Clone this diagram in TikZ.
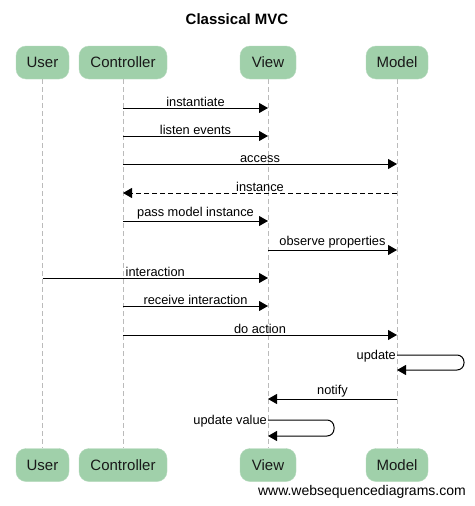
\documentclass[tikz,border=0pt]{standalone}
\usepackage{fontspec}
\setmainfont{Liberation Sans}
\usetikzlibrary{arrows.meta}
\definecolor{boxgreen}{HTML}{A0D0AA}
\definecolor{lifegray}{HTML}{BBBBBB}
\tikzset{
  actor/.style={fill=boxgreen, draw=boxgreen!80!white, rounded corners=10pt, minimum height=33pt, inner sep=0pt, font=\fontsize{15}{18}\selectfont, text=black!90},
  life/.style={draw=lifegray, dash pattern=on 5pt off 3pt, line width=0.8pt},
  msg/.style={draw=black, line width=1pt, -{Triangle[length=9pt,width=10pt]}},
  ret/.style={msg, dash pattern=on 5pt off 3pt},
  lbl/.style={font=\fontsize{12.8}{14}\selectfont, inner sep=1pt},
}
\begin{document}
\begin{tikzpicture}[x=1pt,y=-1pt]
\useasboundingbox[fill=white] (0,0) rectangle (474,506);
\node[font=\bfseries\fontsize{15}{18}\selectfont] (title) at (237,19) {Classical MVC};
% top actors
\node[actor, minimum width=53pt] (user) at (42.5,62.5) {User};
\node[actor, minimum width=88pt] (ctrl) at (123,62.5) {Controller};
\node[actor, minimum width=56pt] (view) at (268,62.5) {View};
\node[actor, minimum width=62pt] (model) at (397,62.5) {Model};
% bottom actors
\node[actor, minimum width=53pt] (userb) at (42.5,465) {User};
\node[actor, minimum width=88pt] (ctrlb) at (123,465) {Controller};
\node[actor, minimum width=56pt] (viewb) at (268,465) {View};
\node[actor, minimum width=62pt] (modelb) at (397,465) {Model};
% lifelines
\draw[life] (user) -- (userb);
\draw[life] (ctrl) -- (ctrlb);
\draw[life] (view) -- (viewb);
\draw[life] (model) -- (modelb);
% messages
\draw[msg] (ctrl |- 0,108) -- node[lbl, above] {instantiate} (view |- 0,108);
\draw[msg] (ctrl |- 0,136) -- node[lbl, above] {listen events} (view |- 0,136);
\draw[msg] (ctrl |- 0,164) -- node[lbl, above] {access} (model |- 0,164);
\draw[ret] (model |- 0,193) -- node[lbl, above] {instance} (ctrl |- 0,193);
\draw[msg] (ctrl |- 0,221) -- node[lbl, above] {pass model instance} (view |- 0,221);
\draw[msg] (view |- 0,250) -- node[lbl, above] {observe properties} (model |- 0,250);
\draw[msg] (user |- 0,278) -- node[lbl, above] {interaction} (view |- 0,278);
\draw[msg] (ctrl |- 0,306) -- node[lbl, above] {receive interaction} (view |- 0,306);
\draw[msg] (ctrl |- 0,335) -- node[lbl, above] {do action} (model |- 0,335);
% self message on model
\coordinate (mu1) at (model |- 0,355);
\coordinate (mu2) at (model |- 0,370);
\draw[msg, rounded corners=7pt] (mu1) -- (464,355) -- (464,370) -- (mu2);
\node[lbl, anchor=east] (updlbl) at ([yshift=-1pt]mu1) {update};
\draw[msg] (model |- 0,399) -- node[lbl, above] {notify} (view |- 0,399);
% self message on view
\coordinate (vu1) at (view |- 0,420);
\coordinate (vu2) at (view |- 0,436);
\draw[msg, rounded corners=7pt] (vu1) -- (334,420) -- (334,436) -- (vu2);
\node[lbl, anchor=east] (uvlbl) at ([yshift=-1pt]vu1) {update value};
% footer
\node[anchor=east, inner sep=0pt, font=\fontsize{14}{16}\selectfont] (footer) at (466,492) {www.websequencediagrams.com};
\end{tikzpicture}
\end{document}
